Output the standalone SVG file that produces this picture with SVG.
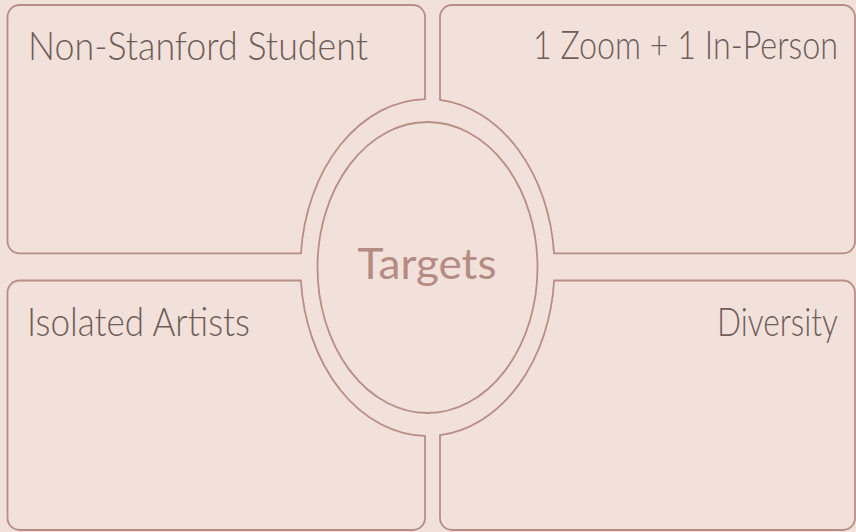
<svg xmlns="http://www.w3.org/2000/svg" width="856" height="532" viewBox="0 0 856 532">
  <style>
    .quad { fill: #f2e1da; stroke: #b78e86; stroke-width: 1.8; stroke-linejoin: miter; }
    .ring { fill: #f2e1da; stroke: #b78e86; stroke-width: 1.8; }
    .label { font-family: "Lato", "Liberation Sans", sans-serif; font-weight: 300; font-size: 40px; fill: #6e5d59; }
    .title { font-family: "Lato", "Liberation Sans", sans-serif; font-weight: 400; font-size: 42px; fill: #b58c84; }
  </style>
  <rect x="0" y="0" width="856" height="532" fill="#f2e1da"/>

  <!-- top-left quadrant -->
  <g id="quad-top-left">
    <path class="quad" d="M 19.5 5 H 413 A 12 12 0 0 1 425 17 V 99.03 A 127 168.5 0 0 0 300.95 253.3 H 19.5 A 12 12 0 0 1 7.5 241.3 V 17 A 12 12 0 0 1 19.5 5 Z"/>
    <text class="label" x="28" y="59.5" textLength="340" lengthAdjust="spacingAndGlyphs">Non-Stanford Student</text>
  </g>

  <!-- top-right quadrant -->
  <g id="quad-top-right">
    <path class="quad" d="M 440 99.8 V 17 A 12 12 0 0 1 452 5 H 843 A 12 12 0 0 1 855 17 V 241.3 A 12 12 0 0 1 843 253.3 H 554.05 A 127 168.5 0 0 0 440 99.8 Z"/>
    <text class="label" x="533" y="58.5" textLength="305" lengthAdjust="spacingAndGlyphs">1 Zoom + 1 In-Person</text>
  </g>

  <!-- bottom-left quadrant -->
  <g id="quad-bottom-left">
    <path class="quad" d="M 19.5 280.5 H 300.88 A 127 168.5 0 0 0 425 435.97 V 518 A 12 12 0 0 1 413 530 H 19.5 A 12 12 0 0 1 7.5 518 V 292.5 A 12 12 0 0 1 19.5 280.5 Z"/>
    <text class="label" x="27" y="336" textLength="223" lengthAdjust="spacingAndGlyphs">Isolated Artists</text>
  </g>

  <!-- bottom-right quadrant -->
  <g id="quad-bottom-right">
    <path class="quad" d="M 440 435.18 A 127 168.5 0 0 0 554.12 280.5 H 843 A 12 12 0 0 1 855 292.5 V 518 A 12 12 0 0 1 843 530 H 452 A 12 12 0 0 1 440 518 Z"/>
    <text class="label" x="717" y="336" textLength="121" lengthAdjust="spacingAndGlyphs">Diversity</text>
  </g>

  <!-- central ellipse -->
  <g id="center-targets">
    <ellipse class="ring" cx="427.5" cy="267.5" rx="110" ry="145.5"/>
    <text class="title" x="357.5" y="278.5" textLength="139" lengthAdjust="spacingAndGlyphs">Targets</text>
  </g>

  <g id="connectors"></g>
</svg>
